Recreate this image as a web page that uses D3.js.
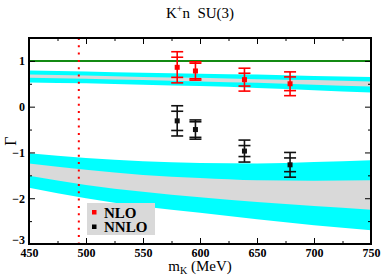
<!DOCTYPE html>
<html><head><meta charset="utf-8">
<script src="https://cdn.jsdelivr.net/npm/d3@7"></script>
<style>body{margin:0;background:#fff}svg{display:block}</style>
</head><body>
<svg id="c" width="382" height="279"></svg>
<script>
const mK = [580, 596, 639, 679];
const nloVal = [0.86, 0.78, 0.59, 0.50];
const nloErrIn = [0.22, 0.17, 0.14, 0.15];
const nloErrOut = [0.34, 0.20, 0.25, 0.26];
const nnloVal = [-0.31, -0.50, -0.97, -1.27];
const nnloErrIn = [0.21, 0.17, 0.12, 0.15];
const nnloErrOut = [0.33, 0.21, 0.24, 0.27];

const bandX = [450, 500, 550, 600, 650, 700, 750];
const nloCyanTop = [0.79, 0.77, 0.74, 0.72, 0.70, 0.67, 0.65];
const nloGrayTop = [0.70, 0.68, 0.65, 0.63, 0.60, 0.58, 0.55];
const nloGrayBot = [0.63, 0.61, 0.58, 0.55, 0.52, 0.48, 0.44];
const nloCyanBot = [0.53, 0.51, 0.48, 0.45, 0.41, 0.36, 0.31];
const nnloCyanTop = [-1.02, -1.12, -1.19, -1.23, -1.24, -1.21, -1.17];
const nnloGrayTop = [-1.24, -1.38, -1.49, -1.56, -1.61, -1.62, -1.61];
const nnloGrayBot = [-1.51, -1.71, -1.86, -1.98, -2.08, -2.17, -2.25];
const nnloCyanBot = [-1.77, -2.00, -2.18, -2.32, -2.46, -2.59, -2.70];

const xTicks = [450, 500, 550, 600, 650, 700, 750];
const xMinor = [475, 525, 575, 625, 675, 725];
const yTicks = [-3, -2, -1, 0, 1];
const yMinor = [-2.5, -1.5, -0.5, 0.5, 1.5];
const kaonMass = 493.7;
const unitLine = 1;

const W = 382, H = 279;
const m = {l: 29, r: 11, t: 38, b: 35};
const svg = d3.select("#c");
const x = d3.scaleLinear().domain([450, 750]).range([m.l, W - m.r]);
const y = d3.scaleLinear().domain([-3, 1.5]).range([H - m.b, m.t]);
const serif = "'Liberation Serif', 'Times New Roman', serif";

const g = svg.append("g");
function band(top, bot, color) {
  const data = bandX.map((v, i) => ({x: v, t: top[i], b: bot[i]}));
  g.append("path").datum(data)
    .attr("d", d3.area().x(d => x(d.x)).y0(d => y(d.b)).y1(d => y(d.t)).curve(d3.curveMonotoneX))
    .attr("fill", color);
}
band(nloCyanTop, nloCyanBot, "#00ffff");
band(nloGrayTop, nloGrayBot, "#d9d9d9");
band(nnloCyanTop, nnloCyanBot, "#00ffff");
band(nnloGrayTop, nnloGrayBot, "#d9d9d9");

// green line
g.append("line").attr("x1", x(450)).attr("x2", x(750)).attr("y1", y(unitLine)).attr("y2", y(unitLine))
  .attr("stroke", "#138a13").attr("stroke-width", 2);
// red dotted
g.append("line").attr("x1", x(kaonMass)).attr("x2", x(kaonMass)).attr("y1", y(1.5)).attr("y2", y(-3))
  .attr("stroke", "#ff0000").attr("stroke-width", 2).attr("stroke-dasharray", "2,5.3");

// legend
g.append("rect").attr("x", 87).attr("y", 203).attr("width", 68).attr("height", 32).attr("fill", "#d9d9d9");
g.append("rect").attr("x", 92).attr("y", 210).attr("width", 4.5).attr("height", 4.5).attr("fill", "#ff0000");
g.append("rect").attr("x", 92).attr("y", 224.5).attr("width", 4.5).attr("height", 4.5).attr("fill", "#000");
g.append("text").attr("x", 104).attr("y", 217.5).text("NLO").attr("font-family", serif).attr("font-weight", "bold").attr("font-size", 15);
g.append("text").attr("x", 104).attr("y", 232).text("NNLO").attr("font-family", serif).attr("font-weight", "bold").attr("font-size", 15);

// error bars
function errs(vals, ein, eout, color) {
  const cw = 6;
  mK.forEach((mx, i) => {
    const cx = x(mx);
    g.append("line").attr("x1", cx).attr("x2", cx).attr("y1", y(vals[i] + eout[i])).attr("y2", y(vals[i] - eout[i]))
      .attr("stroke", color).attr("stroke-width", 1.6);
    [vals[i] + eout[i], vals[i] - eout[i], vals[i] + ein[i], vals[i] - ein[i]].forEach(v => {
      g.append("line").attr("x1", cx - cw).attr("x2", cx + cw).attr("y1", y(v)).attr("y2", y(v))
        .attr("stroke", color).attr("stroke-width", 1.6);
    });
    g.append("rect").attr("x", cx - 2.5).attr("y", y(vals[i]) - 2.5).attr("width", 5).attr("height", 5).attr("fill", color);
  });
}
errs(nloVal, nloErrIn, nloErrOut, "#ff0000");
errs(nnloVal, nnloErrIn, nnloErrOut, "#111");

// axes
function styleAxis(sel) {
  sel.select(".domain").remove();
  sel.selectAll("line").attr("stroke", "#000").attr("stroke-width", 1);
  sel.selectAll("text").attr("font-family", serif).attr("font-weight", "bold").attr("font-size", 12).attr("fill", "#000");
}
svg.append("g").attr("transform", `translate(0,${H - m.b})`)
  .call(d3.axisBottom(x).tickValues(xTicks).tickSize(-6).tickPadding(4).tickFormat(d3.format("d")))
  .call(styleAxis);
svg.append("g").attr("transform", `translate(0,${H - m.b})`)
  .call(d3.axisBottom(x).tickValues(xMinor).tickSize(-3).tickFormat("")).call(styleAxis);
svg.append("g").attr("transform", `translate(0,${m.t})`)
  .call(d3.axisTop(x).tickValues(xTicks).tickSize(-6).tickFormat("")).call(styleAxis);
svg.append("g").attr("transform", `translate(0,${m.t})`)
  .call(d3.axisTop(x).tickValues(xMinor).tickSize(-3).tickFormat("")).call(styleAxis);
const yAx = svg.append("g").attr("transform", `translate(${m.l},0)`)
  .call(d3.axisLeft(y).tickValues(yTicks).tickSize(-6).tickPadding(4).tickFormat(d3.format("d")))
  .call(styleAxis);
// nudge the bottom label up slightly so it doesn't collide with the first x label
yAx.selectAll(".tick").filter(d => d === -3).select("text").attr("dy", "-0.05em");
svg.append("g").attr("transform", `translate(${m.l},0)`)
  .call(d3.axisLeft(y).tickValues(yMinor).tickSize(-3).tickFormat("")).call(styleAxis);
svg.append("g").attr("transform", `translate(${W - m.r},0)`)
  .call(d3.axisRight(y).tickValues(yTicks).tickSize(-6).tickFormat("")).call(styleAxis);
svg.append("g").attr("transform", `translate(${W - m.r},0)`)
  .call(d3.axisRight(y).tickValues(yMinor).tickSize(-3).tickFormat("")).call(styleAxis);

svg.append("rect").attr("x", m.l).attr("y", m.t).attr("width", W - m.l - m.r).attr("height", H - m.t - m.b)
  .attr("fill", "none").attr("stroke", "#000").attr("stroke-width", 2);

// title
const t = svg.append("text").attr("x", 200).attr("y", 18).attr("text-anchor", "middle")
  .attr("font-family", serif).attr("font-size", 15);
t.append("tspan").text("K");
t.append("tspan").text("+").attr("font-size", 10).attr("dy", -6);
t.append("tspan").text("n  SU(3)").attr("dy", 6).style("white-space", "pre");

// x label
const xl = svg.append("text").attr("x", 200).attr("y", 271).attr("text-anchor", "middle")
  .attr("font-family", serif).attr("font-size", 15);
xl.append("tspan").text("m");
xl.append("tspan").text("K").attr("font-size", 10).attr("dy", 3);
xl.append("tspan").text(" (MeV)").attr("dy", -3).style("white-space", "pre");

// y label
svg.append("text").attr("transform", "translate(16,141) rotate(-90)").attr("text-anchor", "middle")
  .attr("font-family", serif).attr("font-size", 16).text("Γ");
</script>
</body></html>
